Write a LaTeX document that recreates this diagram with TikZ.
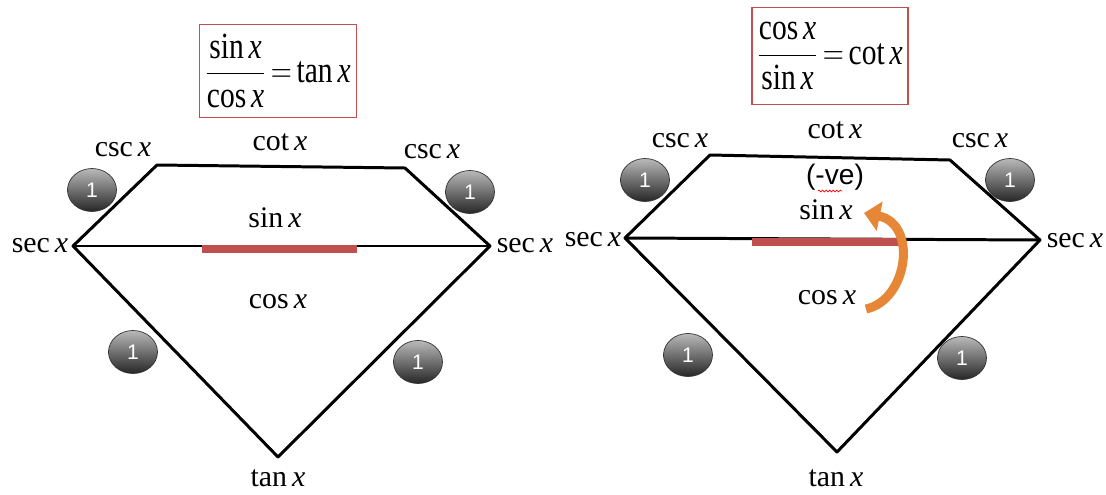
\documentclass[tikz,border=0pt]{standalone}
\usepackage{fontspec}
\setmainfont{Liberation Serif}
\setsansfont{Liberation Sans}
\usepackage{amsmath}
\usetikzlibrary{arrows.meta,shapes.geometric,decorations.pathmorphing}
\definecolor{boxred}{RGB}{192,80,77}
\definecolor{arrorange}{RGB}{230,135,55}
\newcommand{\trig}[1]{#1\,\textit{x}}
\tikzstyle{lbl}=[font=\fontsize{17}{19}\selectfont,inner sep=1pt]
\tikzstyle{one}=[ellipse,draw=black!80,thin,top color=gray!55,bottom color=black!85,minimum width=0.98cm,minimum height=0.86cm,inner sep=0pt,text=white,font=\sffamily\large]
\tikzstyle{edge}=[draw=black,line width=1.7pt,line join=round]
\tikzstyle{bar}=[draw=boxred,line width=4.5pt]
\tikzstyle{eqbox}=[draw=boxred,line width=1.1pt,inner sep=0pt,font=\fontsize{21}{24}\selectfont]
\tikzstyle{curarr}=[draw=arrorange,line width=0.18cm,-{Triangle[length=0.32cm,width=0.58cm]}]

\begin{document}
\begin{tikzpicture}[x=0.02cm,y=-0.02cm]
\useasboundingbox (0,0) rectangle (1106,494);
\begin{scope}
  %Corners
  \coordinate (TL) at (157,165);
  \coordinate (TR) at (405,168);
  \coordinate (L) at (73,246);
  \coordinate (R) at (490,246);
  \coordinate (B) at (278,457);
  \draw[edge] (L) -- (TL) -- (TR) -- (R) -- (B) -- cycle;
  \draw[edge] (L) -- (R);
  \coordinate (s1) at (202,249);
  \coordinate (s2) at (357,249);
  \draw[bar] (s1) -- (s2);
  %Box
  \node[eqbox,minimum width=3.14cm,minimum height=1.86cm] (eqL) at (278,71)
    {\scalebox{0.8}[1]{$\displaystyle\frac{\textrm{sin}\,\textit{x}}{\textrm{cos}\,\textit{x}}\,{=}\,\textrm{tan}\,\textit{x}$}};
  %Labels
  \node[lbl] (cscL1) at (123,150) {\trig{csc}};
  \node[lbl] (cotL)  at (280,142) {\trig{cot}};
  \node[lbl] (cscL2) at (432,152) {\trig{csc}};
  \node[lbl] (secL1) at (40,246)  {\trig{sec}};
  \node[lbl] (secL2) at (525,246) {\trig{sec}};
  \node[lbl] (sinL)  at (275,218) {\trig{sin}};
  \node[lbl] (cosL)  at (278,302) {\trig{cos}};
  \node[lbl] (tanL)  at (278,478) {\trig{tan}};
  %Ones
  \node[one] (o1) at (92,190)  {1};
  \node[one] (o2) at (470,192) {1};
  \node[one] (o3) at (133,352) {1};
  \node[one] (o4) at (418,362) {1};
\end{scope}
\begin{scope}
  %Corners
  \coordinate (TL) at (710,155);
  \coordinate (TR) at (950,160);
  \coordinate (L) at (625,238);
  \coordinate (R) at (1040,240);
  \coordinate (B) at (837,452);
  \draw[edge] (L) -- (TL) -- (TR) -- (R) -- (B) -- cycle;
  \draw[edge] (L) -- (R);
  \coordinate (s1) at (752,242);
  \coordinate (s2) at (905,242);
  \draw[bar] (s1) -- (s2);
  %Box
  \node[eqbox,minimum width=3.12cm,minimum height=1.94cm] (eqR) at (830,56)
    {\scalebox{0.8}[1]{$\displaystyle\frac{\textrm{cos}\,\textit{x}}{\textrm{sin}\,\textit{x}}\,{=}\,\textrm{cot}\,\textit{x}$}};
  %Labels
  \node[lbl] (cscR1) at (680,141)  {\trig{csc}};
  \node[lbl] (cotR)  at (835,130)  {\trig{cot}};
  \node[lbl] (cscR2) at (980,141)  {\trig{csc}};
  \node[lbl] (secR1) at (593,240)  {\trig{sec}};
  \node[lbl] (secR2) at (1075,241) {\trig{sec}};
  \node[lbl,font=\sffamily\fontsize{16}{18}\selectfont] (neg) at (835,177) {(-ve)};
  \node[lbl] (sinR)  at (826,210)  {\trig{sin}};
  \node[lbl] (cosR)  at (827,298)  {\trig{cos}};
  \node[lbl] (tanR)  at (836,478)  {\trig{tan}};
  \coordinate (w1) at (818,191);
  \coordinate (w2) at (842,191);
  \draw[red,thin,decorate,decoration={snake,amplitude=0.5pt,segment length=2pt}] (w1) -- (w2);
  %Ones
  \node[one] (p1) at (645,180)  {1};
  \node[one] (p2) at (1010,180) {1};
  \node[one] (p3) at (688,355)  {1};
  \node[one] (p4) at (962,358)  {1};
  %Arrow
  \coordinate (tail) at (866,309);
  \coordinate (tip) at (864,213);
  \draw[curarr] (tail) .. controls (908,300) and (918,224) .. (tip);
\end{scope}
\end{tikzpicture}
\end{document}
